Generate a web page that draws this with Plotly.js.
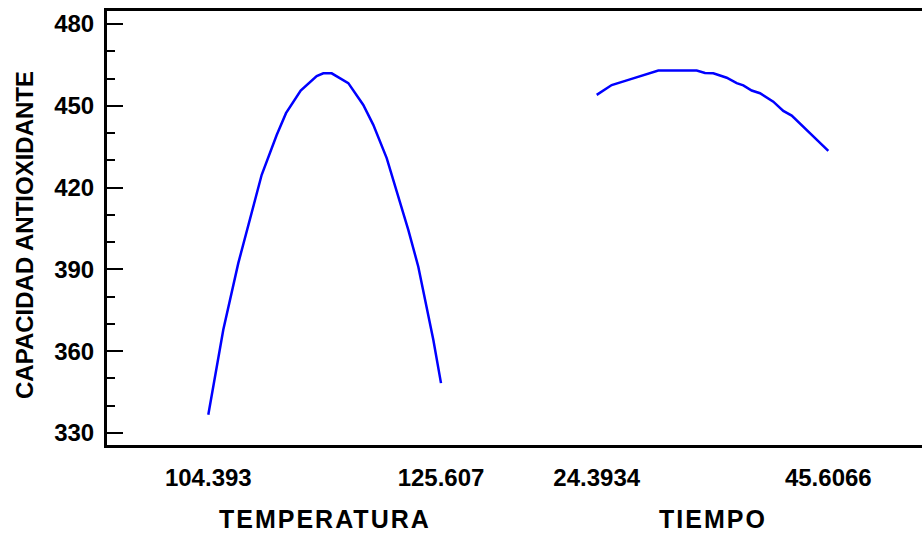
<!DOCTYPE html>
<html>
<head>
<meta charset="utf-8">
<script src="https://cdn.plot.ly/plotly-3.0.1.min.js"></script>
<style>html,body{margin:0;padding:0;background:#fff;}#chart{width:922px;height:534px;}</style>
</head>
<body>
<div id="chart"></div>
<script>
// Main effects for CAPACIDAD ANTIOXIDANTE
const tempX = [104.393, 105.760, 107.128, 109.261, 110.629, 111.477, 112.817, 114.276, 114.877, 115.643, 117.156, 118.524, 119.435, 120.657, 122.626, 123.538, 124.906, 125.607];
const tempY = [336.7, 367.9, 392.3, 424.7, 439.3, 447.3, 455.6, 460.9, 461.9, 461.9, 458.3, 450.3, 443.0, 430.8, 404.5, 391.0, 364.2, 348.3];
const timeX = [24.393, 25.767, 27.443, 30.036, 33.553, 34.313, 35.073, 36.301, 37.217, 37.821, 38.591, 39.351, 40.569, 41.485, 42.255, 45.607];
const timeY = [454.0, 457.6, 459.7, 462.9, 462.9, 462.0, 461.9, 460.3, 458.3, 457.5, 455.6, 454.6, 451.5, 448.1, 446.4, 433.5];
const tempTicks = [104.393, 125.607];
const tempTickText = ['104.393', '125.607'];
const timeTicks = [24.3934, 45.6066];
const timeTickText = ['24.3934', '45.6066'];
const yTicks = [330, 360, 390, 420, 450, 480];
const factorNames = ['TEMPERATURA', 'TIEMPO'];
const responseName = 'CAPACIDAD ANTIOXIDANTE';

const BOLD = {family: 'Liberation Sans, Arial, sans-serif', size: 24, color: '#000', weight: 'bold'};
const TITLEFONT = {family: 'Liberation Sans, Arial, sans-serif', size: 25, color: '#000', weight: 'bold'};

const traces = [
  {x: tempX, y: tempY, xaxis: 'x', yaxis: 'y', mode: 'lines', line: {color: '#0000FF', width: 2.5}, hoverinfo: 'skip'},
  {x: timeX, y: timeY, xaxis: 'x2', yaxis: 'y', mode: 'lines', line: {color: '#0000FF', width: 2.5}, hoverinfo: 'skip'}
];

const xCommon = {
  showline: true, linecolor: '#000', linewidth: 3, mirror: true,
  showgrid: false, zeroline: false, ticks: '', tickfont: BOLD,
  ticklabelstandoff: 9, anchor: 'y', fixedrange: true
};

function spaced(s) { return '<span style="letter-spacing:2px">' + s + '</span>'; }

const layout = {
  width: 922, height: 534,
  margin: {l: 107, r: 0, t: 11, b: 89},
  paper_bgcolor: '#fff', plot_bgcolor: '#fff',
  showlegend: false,
  xaxis: Object.assign({}, xCommon, {domain: [0, 0.5], range: [95.158, 132.308], tickvals: tempTicks, ticktext: tempTickText}),
  xaxis2: Object.assign({}, xCommon, {domain: [0.5, 1], range: [16.864, 54.189], tickvals: timeTicks, ticktext: timeTickText}),
  yaxis: {
    range: [325.6, 484.76], tickvals: yTicks, showline: true, linecolor: '#000', linewidth: 3,
    ticks: 'inside', ticklen: 16, tickwidth: 2, tickcolor: '#000',
    minor: {dtick: 10, tick0: 330, ticks: 'inside', ticklen: 8, tickwidth: 2, tickcolor: '#000', showgrid: false},
    showgrid: false, zeroline: false, tickfont: BOLD, ticklabelstandoff: 5, fixedrange: true
  },
  yaxis2: {
    overlaying: 'y', side: 'right', anchor: 'x2', range: [325.6, 484.76], tickvals: yTicks,
    showline: true, linecolor: '#000', linewidth: 3,
    ticks: 'inside', ticklen: 7, tickwidth: 2, tickcolor: '#000',
    showticklabels: false, showgrid: false, zeroline: false, fixedrange: true
  },
  annotations: [
    {text: spaced(factorNames[0]), xref: 'x', yref: 'paper', x: 115, y: 0, yshift: -74, showarrow: false,
     font: TITLEFONT, xanchor: 'center', yanchor: 'middle'},
    {text: spaced(factorNames[1]), xref: 'x2', yref: 'paper', x: 35, y: 0, yshift: -74, showarrow: false,
     font: TITLEFONT, xanchor: 'center', yanchor: 'middle'},
    {text: responseName, xref: 'paper', yref: 'paper', x: 0, xshift: -83, y: 0.5, yshift: -7, textangle: -90, showarrow: false,
     font: {family: 'Liberation Sans Narrow, Arial Narrow, Liberation Sans, Arial, sans-serif', size: 24, color: '#000', weight: 'bold'}, xanchor: 'center', yanchor: 'middle'}
  ]
};

Plotly.newPlot('chart', traces, layout, {displayModeBar: false, staticPlot: true});
</script>
</body>
</html>
